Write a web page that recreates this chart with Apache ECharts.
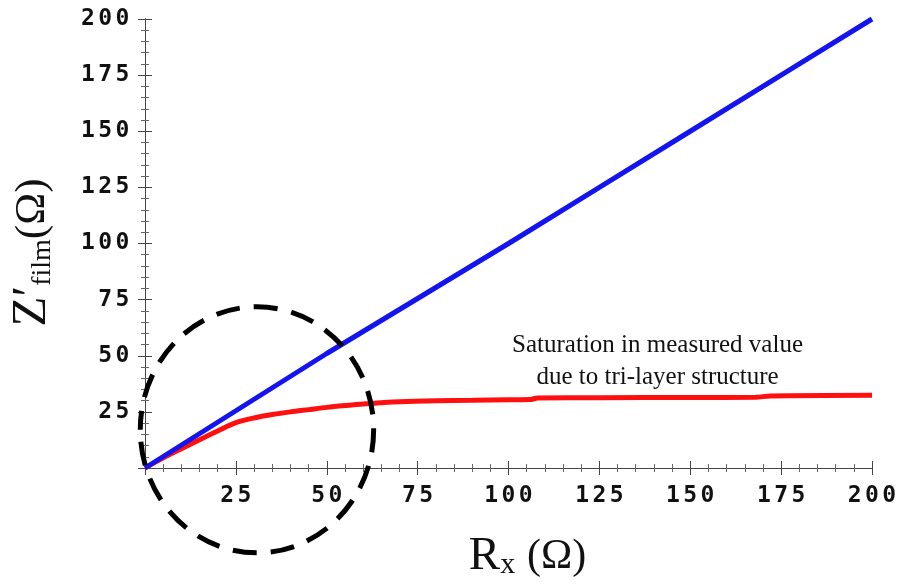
<!DOCTYPE html>
<html>
<head>
<meta charset="utf-8">
<script src="https://cdn.jsdelivr.net/npm/echarts@6/dist/echarts.min.js"></script>
<style>html,body{margin:0;padding:0;background:#fff;}#c{width:903px;height:585px;}</style>
</head>
<body>
<div id="c"></div>
<script>
// ---- data ----
const blueX = [0, 25, 50, 75, 100, 125, 150, 175, 200];
const blueY = [0, 25.5, 51, 75.5, 100, 125, 150, 175, 200];
const redX = [0, 5, 10, 15, 20, 25, 30, 35, 40, 45, 50, 55, 60, 70, 80, 90, 100, 106, 108, 125, 150, 168, 172, 200];
const redY = [0, 4.5, 8.6, 12.6, 16.5, 20.2, 22.3, 23.8, 25.0, 26.0, 27.0, 27.8, 28.5, 29.5, 30.0, 30.2, 30.4, 30.5, 31.2, 31.3, 31.4, 31.5, 32.1, 32.4];
const tickLabels = ['25', '50', '75', '100', '125', '150', '175', '200'];
const noteLines = ['Saturation in measured value', 'due to tri-layer structure'];
const noteAt = [141, 47.5];          // data coords of annotation centre
const circleCenter = [30.8, 17.0];   // data coords of dashed ellipse centre
const circleRadius = [32.1, 54.8];   // data units (x, y)

const chart = echarts.init(document.getElementById('c'), null, {renderer: 'canvas'});
const digitStyle = {fontFamily: 'DejaVu Sans Mono', fontSize: 23, fontWeight: 'bold', color: '#111', padding: [0, 1.7]};
function fmt(v) {
  const s = String(v);
  if (tickLabels.indexOf(s) < 0) return '';
  return s.split('').map(ch => '{d|' + ch + '}').join('');
}
const tickCommon = {
  axisLine: {show: true, lineStyle: {color: '#444', width: 1}},
  axisTick: {show: true, inside: true, length: 7, lineStyle: {color: '#444'}},
  minorTick: {show: true, splitNumber: 5, length: 4, lineStyle: {color: '#666'}},
  splitLine: {show: false}
};
const ax = (extra) => Object.assign({type: 'value', min: 0, max: 200, interval: 25}, JSON.parse(JSON.stringify(tickCommon)), extra);

chart.setOption({
  animation: false,
  backgroundColor: '#fff',
  grid: {left: 145, right: 31, top: 19, bottom: 117, containLabel: false, outerBoundsMode: 'none'},
  xAxis: [
    ax({position: 'bottom', axisLabel: {formatter: fmt, margin: 17, rich: {d: digitStyle}},
      name: '{r|R}{s|x}{r| }{o|(Ω)}', nameLocation: 'middle', nameGap: 65,
      nameTextStyle: {padding: [0, 0, 0, 38], rich: {
        r: {fontFamily: 'Liberation Serif', fontSize: 47, color: '#111'},
        o: {fontFamily: 'Liberation Serif', fontSize: 42, color: '#111'},
        s: {fontFamily: 'Liberation Serif', fontSize: 30, color: '#111', verticalAlign: 'bottom', padding: [14, 0, 0, 0]}
      }}}),
    ax({position: 'top', axisLabel: {show: false}})
  ],
  yAxis: [
    ax({position: 'left', axisLabel: {formatter: fmt, margin: 14, rich: {d: digitStyle}},
      name: '{z|Z′}{s|film}{o|(Ω)}', nameLocation: 'middle', nameGap: 88, nameRotate: 90,
      nameTextStyle: {padding: [0, 18, 0, 0], rich: {
        z: {fontFamily: 'Liberation Serif', fontSize: 49, color: '#111'},
        o: {fontFamily: 'Liberation Serif', fontSize: 43, color: '#111'},
        s: {fontFamily: 'Liberation Serif', fontSize: 28, color: '#111', verticalAlign: 'bottom', padding: [12, 0, 0, 0]}
      }}}),
    ax({position: 'right', axisLabel: {show: false}})
  ],
  series: [
    {type: 'line', data: blueX.map((x, i) => [x, blueY[i]]), showSymbol: false,
     lineStyle: {color: '#1414f0', width: 5}, z: 3},
    {type: 'line', data: redX.map((x, i) => [x, redY[i]]), showSymbol: false, smooth: 0.3,
     lineStyle: {color: '#ff1010', width: 5}, z: 2}
  ]
});

const c = chart.convertToPixel({xAxisIndex: 0, yAxisIndex: 0}, circleCenter);
const e = chart.convertToPixel({xAxisIndex: 0, yAxisIndex: 0}, [circleCenter[0] + circleRadius[0], circleCenter[1] + circleRadius[1]]);
const n = chart.convertToPixel({xAxisIndex: 0, yAxisIndex: 0}, noteAt);
chart.setOption({
  graphic: [
    {type: 'ellipse', shape: {cx: c[0], cy: c[1], rx: Math.abs(e[0] - c[0]), ry: Math.abs(e[1] - c[1])},
     style: {fill: 'none', stroke: '#000', lineWidth: 5, lineDash: [24, 14], lineDashOffset: 5}, z: 10},
    {type: 'text', x: n[0], y: n[1],
     style: {text: noteLines.join('\n'), fontFamily: 'Liberation Serif', fontSize: 25, lineHeight: 32,
       fill: '#111', align: 'center', verticalAlign: 'middle'}, z: 10}
  ]
});
</script>
</body>
</html>
